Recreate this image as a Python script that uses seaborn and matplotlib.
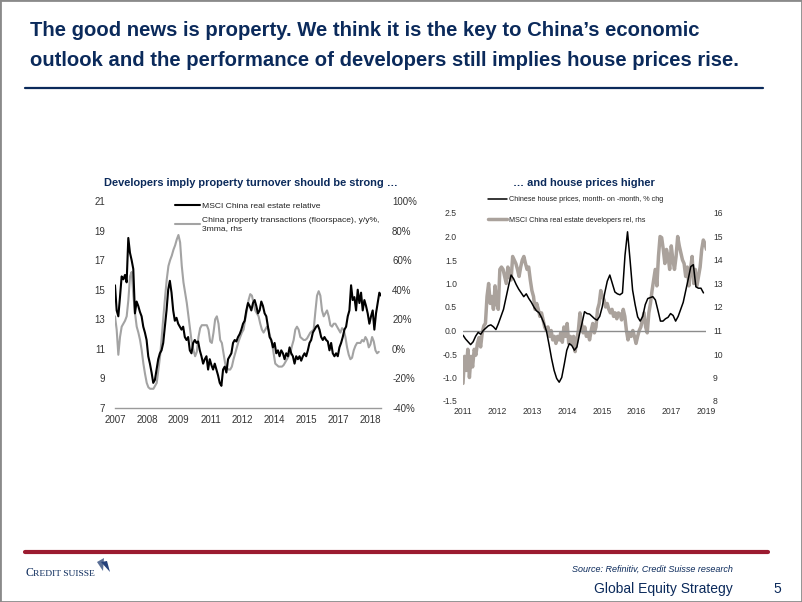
import matplotlib
matplotlib.use("Agg")
import matplotlib.pyplot as plt
import numpy as np
import seaborn as sns
from matplotlib.lines import Line2D
from matplotlib.patches import Rectangle, Polygon
from matplotlib import font_manager

# ---- data ----
# left panel: MSCI China real estate relative (lhs), ~4-weekly, 2007 -> end 2018
left_black = [
    15.3, 13.6, 13.2, 14.5, 15.9, 15.7, 16.0, 15.5, 18.5, 17.5, 17.0, 16.4, 13.4, 14.2, 13.9, 13.5,
    13.2, 12.5, 12.1, 11.6, 10.5, 10.0, 9.4, 8.7, 8.9, 9.6, 10.3, 10.7, 10.9, 11.4, 12.5, 13.6,
    15.0, 15.6, 14.8, 13.6, 12.9, 13.1, 12.7, 12.5, 12.3, 12.5, 11.8, 11.6, 11.8, 10.9, 10.7, 11.4,
    11.6, 11.4, 11.5, 10.9, 10.5, 10.0, 10.3, 10.5, 9.6, 10.3, 9.9, 9.6, 10.0, 9.6, 9.2, 8.7,
    8.5, 9.6, 9.8, 9.4, 10.3, 10.5, 10.7, 11.4, 11.6, 11.5, 11.8, 12.0, 12.3, 12.7, 12.9, 13.6,
    14.1, 13.9, 13.6, 14.1, 14.3, 13.9, 13.4, 13.6, 14.2, 13.9, 13.4, 13.2, 12.5, 11.8, 11.6, 11.1,
    11.4, 10.7, 10.9, 10.5, 10.9, 10.7, 10.3, 10.7, 10.5, 11.1, 10.7, 10.5, 10.0, 10.5, 10.3, 10.5,
    10.2, 10.5, 10.7, 10.5, 10.9, 11.4, 11.6, 12.1, 12.3, 12.5, 12.6, 12.3, 11.8, 11.6, 11.8, 11.6,
    11.5, 10.9, 11.4, 10.7, 10.5, 10.7, 10.5, 11.1, 11.4, 11.8, 12.3, 12.5, 13.2, 13.6, 15.3, 14.3,
    14.5, 13.6, 15.0, 14.1, 14.8, 13.6, 14.3, 13.9, 13.4, 12.7, 13.2, 13.6, 12.3, 13.4, 14.1, 14.8,
    14.6,
]
# left panel: China property transactions (floorspace) y/y %, 3mma (rhs)
left_gray = [
    22, 13, -4, 8, 15, 17, 19, 22, 33, 49, 52, 36, 24, 15, 11, 6, -1, -10, -17, -23, -26, -27,
    -27, -27, -25, -23, -14, -5, 8, 22, 35, 47, 56, 60, 63, 67, 70, 74, 77, 72, 56, 45, 38, 31,
    22, 13, 4, -1, -5, -2, 8, 14, 16, 16, 16, 16, 13, 5, 4, 11, 20, 22, 17, 6, 4, -3, -10, -13,
    -14, -14, -12, -7, -3, 1, 5, 8, 11, 13, 20, 26, 33, 37, 36, 31, 26, 24, 22, 17, 13, 11, 13,
    15, 13, 8, 4, -3, -10, -11, -12, -12, -12, -11, -9, -7, -5, -3, 2, 6, 13, 15, 13, 8, 7, 6,
    6, 7, 9, 11, 12, 13, 25, 36, 39, 36, 26, 22, 24, 26, 22, 16, 15, 17, 17, 15, 13, 11, 14, 13,
    8, 1, -4, -7, -6, -1, 2, 4, 4, 4, 6, 5, 8, 6, 1, 3, 8, 5, -1, -3, -2,
]
left_ticklabels = ["2007", "2008", "2009", "2011", "2012", "2014", "2015", "2017", "2018"]

# right panel: Chinese house prices m/m % (lhs), monthly Jan 2011 -> Dec 2018
right_black = [
    -0.10, -0.18, -0.24, -0.30, -0.24, -0.12, -0.04, -0.08, 0.00, 0.05, 0.10, 0.12,
    0.08, 0.02, 0.15, 0.30, 0.45, 0.70, 0.95, 1.18, 1.10, 0.98, 0.88, 0.80,
    0.72, 0.78, 0.68, 0.60, 0.50, 0.42, 0.38, 0.28, 0.15, -0.02, -0.30, -0.60,
    -0.85, -1.02, -1.10, -1.00, -0.72, -0.42, -0.28, -0.32, -0.42, -0.35, -0.08, 0.15,
    0.40, 0.36, 0.35, 0.30, 0.25, 0.22, 0.30, 0.50, 0.80, 1.05, 1.18, 1.00,
    0.82, 0.78, 0.76, 0.80, 1.60, 2.10, 1.50, 0.86, 0.55, 0.29, 0.20, 0.30,
    0.55, 0.68, 0.70, 0.72, 0.65, 0.43, 0.20, 0.20, 0.25, 0.28, 0.36, 0.32,
    0.20, 0.30, 0.45, 0.60, 0.85, 1.10, 1.36, 1.40, 0.93, 0.90, 0.90, 0.80,
]
# right panel: MSCI China real estate developers rel (rhs)
right_gray = [
    8.75, 9.9, 9.3, 10.2, 9.0, 9.9, 9.45, 10.2, 9.95, 10.45, 10.7, 10.3, 10.9, 11.2, 11.3, 12.45,
    13.0, 12.15, 12.45, 11.9, 12.9, 12.15, 11.9, 13.6, 13.7, 13.6, 13.3, 13.0, 13.7, 13.3, 13.15, 14.15,
    14.0, 13.85, 13.6, 13.3, 13.7, 14.0, 14.15, 13.85, 13.6, 13.7, 13.15, 12.7, 12.45, 11.9, 12.15, 11.9,
    11.6, 11.75, 11.45, 11.15, 11.0, 11.15, 10.75, 11.0, 10.6, 10.75, 10.45, 10.75, 10.6, 10.9, 10.5, 11.15,
    10.75, 11.3, 10.45, 10.75, 10.45, 10.75, 10.1, 10.6, 11.0, 11.75, 11.3, 10.9, 11.15, 10.75, 10.9, 10.6,
    11.0, 11.3, 10.9, 11.15, 11.9, 12.15, 12.7, 12.45, 12.3, 12.0, 12.15, 11.9, 11.75, 11.9, 11.6, 11.75,
    11.5, 11.75, 11.7, 11.45, 11.9, 11.6, 11.0, 10.6, 10.9, 10.75, 11.0, 10.75, 10.45, 10.75, 11.0, 11.15,
    11.45, 11.75, 11.15, 10.9, 11.75, 12.15, 12.7, 13.15, 13.6, 12.9, 14.15, 15.0, 14.95, 14.45, 13.85, 14.45,
    14.15, 13.6, 14.6, 14.0, 13.6, 14.15, 15.0, 14.6, 14.3, 14.0, 13.85, 13.3, 13.7, 12.9, 13.6, 14.15,
    13.0, 13.6, 12.9, 13.3, 13.7, 14.45, 14.85, 14.7, 14.45, 14.6,
]
right_ticklabels = ["2011", "2012", "2013", "2014", "2015", "2016", "2017", "2019"]

NAVY = "#0b2a5b"
BLACK_LINE = "#000000"
GRAY_LEFT = "#a3a3a3"
GRAY_RIGHT = "#aaa29c"
TICK_COL = "#333333"

sns.set_theme(style="white")
narrow = "Liberation Sans Narrow"
avail = {f.name for f in font_manager.fontManager.ttflist}
plt.rcParams["font.family"] = ([narrow] if narrow in avail else []) + ["Liberation Sans", "DejaVu Sans"]

fig = plt.figure(figsize=(8.02, 6.02), dpi=100)
W, H = 802.0, 602.0


def fx(px):
    return px / W


def fy(py):
    return 1 - py / H


# page frame, header and footer
fig.add_artist(Rectangle((0, 0), 1, 1, transform=fig.transFigure, fill=False, edgecolor="#8a8a8a", lw=2))
title_font = ["Liberation Sans", "DejaVu Sans"]
fig.text(fx(30), fy(30), "The good news is property. We think it is the key to China\u2019s economic",
         ha="left", va="center", fontsize=14.6, weight="bold", color=NAVY, family=title_font)
fig.text(fx(30), fy(60), "outlook and the performance of developers still implies house prices rise.",
         ha="left", va="center", fontsize=14.6, weight="bold", color=NAVY, family=title_font)
fig.add_artist(Line2D([fx(25), fx(763)], [fy(88), fy(88)], color=NAVY, lw=1.6))
fig.add_artist(Line2D([fx(25), fx(768)], [fy(552), fy(552)], color="#9b1b30", lw=3))
fig.text(fx(26), fy(573), "C", ha="left", va="center", fontsize=8.5, color=NAVY, family="Liberation Serif")
fig.text(fx(33), fy(574), "REDIT SUISSE", ha="left", va="center", fontsize=6.8, color=NAVY, family="Liberation Serif")
fig.add_artist(Polygon([(fx(97), fy(562)), (fx(104), fy(558)), (fx(103), fy(571))], closed=True,
                       transform=fig.transFigure, facecolor="#5a6f96", edgecolor="none"))
fig.add_artist(Polygon([(fx(101), fy(562)), (fx(107), fy(561)), (fx(110), fy(572))], closed=True,
                       transform=fig.transFigure, facecolor="#24407a", edgecolor="none"))
fig.text(fx(733), fy(569), "Source: Refinitiv, Credit Suisse research", ha="right", va="center",
         fontsize=6.5, style="italic", color=NAVY)
fig.text(fx(733), fy(589), "Global Equity Strategy", ha="right", va="center", fontsize=10, color=NAVY)
fig.text(fx(781), fy(589), "5", ha="right", va="center", fontsize=10, color=NAVY)

# ---- left panel ----
fig.text(fx(251), fy(183), "Developers imply property turnover should be strong \u2026", ha="center", va="center",
         fontsize=7.9, weight="bold", color=NAVY, family=title_font)
ax1 = fig.add_axes([fx(115), fy(408), fx(381) - fx(115), fy(201) - fy(408)])
ax1b = ax1.twinx()
x_lb = np.linspace(2007.0, 2019.0, len(left_black))
x_lg = np.linspace(2007.0, 2018.9, len(left_gray))
sns.lineplot(x=x_lg, y=left_gray, ax=ax1b, color=GRAY_LEFT, lw=1.5, label="China property transactions (floorspace), y/y%,\n3mma, rhs", legend=False)
sns.lineplot(x=x_lb, y=left_black, ax=ax1, color=BLACK_LINE, lw=1.5, label="MSCI China real estate relative", legend=False)
ax1.set_zorder(ax1b.get_zorder() + 1)
ax1.patch.set_visible(False)
ax1.set_xlim(2007.0, 2019.0)
ax1.set_ylim(7, 21)
ax1.set_yticks(np.arange(7, 22, 2))
ax1b.set_ylim(-40, 100)
ax1b.set_yticks(np.arange(-40, 101, 20))
ax1b.set_yticklabels([f"{v}%" for v in range(-40, 101, 20)])
ax1.set_xticks(2007.0 + 1.44 * np.arange(len(left_ticklabels)))
ax1.set_xticklabels(left_ticklabels)
for a in (ax1, ax1b):
    for s in a.spines.values():
        s.set_visible(False)
    a.set_xlabel("")
    a.set_ylabel("")
ax1.spines["bottom"].set_visible(True)
ax1.spines["bottom"].set_color("#9a9a9a")
ax1.spines["bottom"].set_linewidth(1)
ax1.tick_params(axis="x", length=3, width=0.8, color="#9a9a9a", direction="out", pad=2, labelsize=7, labelcolor=TICK_COL)
ax1.tick_params(axis="y", length=0, pad=7, labelsize=7, labelcolor=TICK_COL)
ax1b.tick_params(axis="y", length=0, pad=8, labelsize=7, labelcolor=TICK_COL)
h1 = ax1.get_lines()[:1] + ax1b.get_lines()[:1]
leg = ax1b.legend(h1, [l.get_label() for l in h1], loc="upper left", bbox_to_anchor=(fx(175), fy(202)),
                  bbox_transform=fig.transFigure, frameon=False, fontsize=6.1, handlelength=2.9,
                  handletextpad=0.3, labelspacing=0.85, borderpad=0, borderaxespad=0)
for t in leg.get_texts():
    t.set_color("#222222")

# ---- right panel ----
fig.text(fx(584), fy(183), "\u2026 and house prices higher", ha="center", va="center",
         fontsize=7.9, weight="bold", color=NAVY, family=title_font)
ax2 = fig.add_axes([fx(463), fy(401), fx(706) - fx(463), fy(213) - fy(401)])
ax2b = ax2.twinx()
x_rb = 2011.0 + np.arange(len(right_black)) / 12.0
x_rg = np.linspace(2011.0, 2019.07, len(right_gray))
ax2.axhline(0, color="#8c8c8c", lw=1, xmin=0, xmax=1, zorder=1)
sns.lineplot(x=x_rg, y=right_gray, ax=ax2b, color=GRAY_RIGHT, lw=2.5, label="MSCI China real estate developers rel, rhs", legend=False)
sns.lineplot(x=x_rb, y=right_black, ax=ax2, color=BLACK_LINE, lw=1.1, label="Chinese house prices, month- on -month, % chg", legend=False)
ax2.set_zorder(ax2b.get_zorder() + 1)
ax2.patch.set_visible(False)
ax2.set_xlim(2011.0, 2019.0)
ax2.set_ylim(-1.5, 2.5)
ax2.set_yticks(np.arange(-1.5, 2.51, 0.5))
ax2.set_yticklabels([f"{v:.1f}" for v in np.arange(-1.5, 2.51, 0.5)])
ax2b.set_ylim(8, 16)
ax2b.set_yticks(np.arange(8, 17, 1))
ax2.set_xticks(2011.0 + (8.0 / 7.0) * np.arange(len(right_ticklabels)))
ax2.set_xticklabels(right_ticklabels)
for a in (ax2, ax2b):
    for s in a.spines.values():
        s.set_visible(False)
    a.set_xlabel("")
    a.set_ylabel("")
ax2.tick_params(axis="x", length=0, pad=4, labelsize=6.2, labelcolor=TICK_COL)
ax2.tick_params(axis="y", length=0, pad=4.3, labelsize=6.2, labelcolor=TICK_COL)
ax2b.tick_params(axis="y", length=0, pad=5, labelsize=6.2, labelcolor=TICK_COL)
h2 = ax2.get_lines()[1:2] + ax2b.get_lines()[:1]
leg2 = ax2b.legend(h2, [l.get_label() for l in h2], loc="upper left", bbox_to_anchor=(fx(488), fy(196)),
                   bbox_transform=fig.transFigure, frameon=False, fontsize=5.2, handlelength=2.7,
                   handletextpad=0.2, labelspacing=1.9, borderpad=0, borderaxespad=0)
for t in leg2.get_texts():
    t.set_color("#222222")

fig.savefig("out.png", dpi=100)
